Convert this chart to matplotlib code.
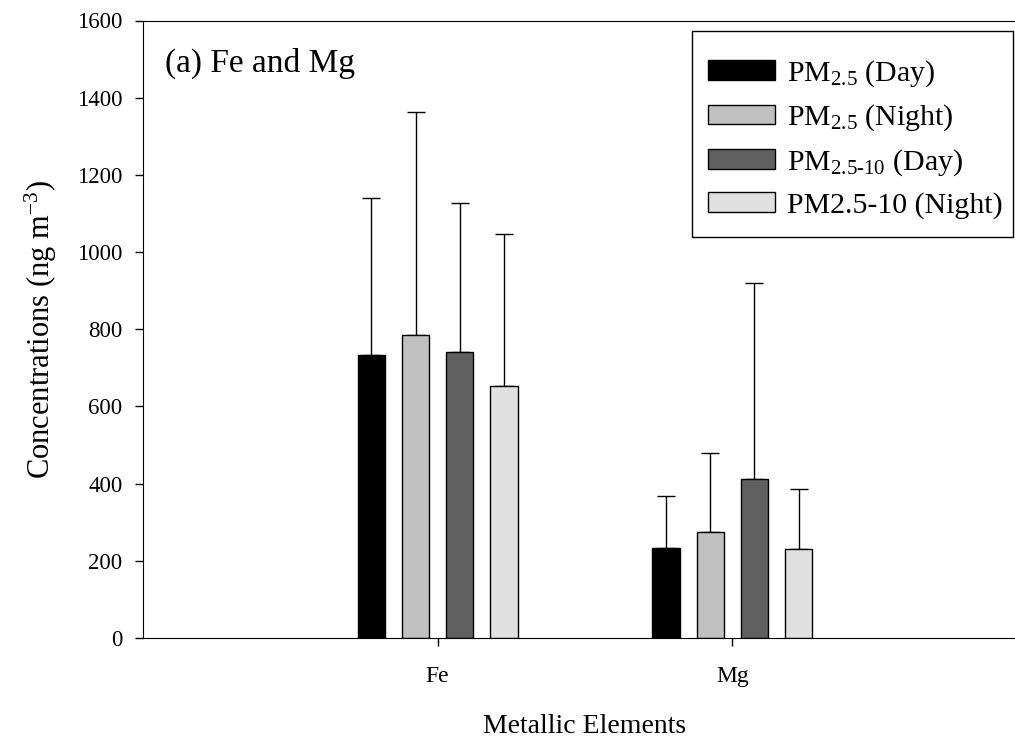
import numpy as np
import matplotlib
matplotlib.use("Agg")
import matplotlib.pyplot as plt
from matplotlib.patches import Rectangle

plt.rcParams['font.family'] = ['Liberation Serif', 'DejaVu Serif']
plt.rcParams['mathtext.fontset'] = 'custom'
plt.rcParams['mathtext.rm'] = 'Liberation Serif'
plt.rcParams['mathtext.it'] = 'Liberation Serif:italic'

elements = ['Fe', 'Mg']
series = ['PM$_{2.5}$ (Day)', 'PM$_{2.5}$ (Night)',
          'PM$_{\\mathrm{2.5\u201010}}$ (Day)', 'PM2.5-10 (Night)']
means = [
    [733, 234],   # PM2.5 day
    [784, 274],   # PM2.5 night
    [742, 413],   # PM2.5-10 day
    [652, 230],   # PM2.5-10 night
]
upper = [
    [1141, 369],
    [1363, 479],
    [1127, 920],
    [1046, 386],
]
colors = ['#000000', '#c0c0c0', '#606060', '#e0e0e0']

W, H = 1015, 740
fig = plt.figure(figsize=(W / 100, H / 100), dpi=100)
ax = fig.add_axes([143 / W, 102 / H, 884 / W, 617.5 / H])

x = np.arange(1, len(elements) + 1)
step = 0.1497
width = 0.0935
for i in range(4):
    pos = x + (i - 1.5) * step
    m = np.array(means[i])
    err = np.array(upper[i]) - m
    ax.bar(pos, m, width, color=colors[i], edgecolor='black', linewidth=1,
           label=series[i], zorder=2)
    ax.errorbar(pos, m, yerr=[np.zeros_like(err), err], fmt='none',
                ecolor='black', elinewidth=1, capsize=6.8, capthick=1, zorder=1)

ax.set_xlim(0, 3)
ax.set_ylim(0, 1600)
ax.set_xticks(x)
ax.set_xticklabels(elements)
ax.set_yticks(np.arange(0, 1601, 200))
ax.tick_params(axis='y', labelsize=16.5, length=5.8, width=1, direction='out', pad=9)
ax.tick_params(axis='x', labelsize=17, length=5.8, width=1, direction='out', pad=14.5)
ax.spines['right'].set_visible(False)

ax.set_xlabel('Metallic Elements', fontsize=20, labelpad=19)
ax.set_ylabel('Concentrations (ng m$^{-3}$)', fontsize=22, labelpad=13)
ax.text(22 / 884, 0.9166, '(a) Fe and Mg', transform=ax.transAxes,
        fontsize=24, va='baseline', ha='left')

# legend box drawn separately so its padding can be set on each side
box = Rectangle((691.5 / W, 1 - 237 / H), (1013 - 691.5) / W, (237 - 31.5) / H,
                transform=fig.transFigure, facecolor='white', edgecolor='black',
                linewidth=1, clip_on=False, zorder=3)
ax.add_patch(box)
leg = ax.legend(loc='upper left', bbox_to_anchor=(708 / W, 1 - 58 / H),
                bbox_transform=fig.transFigure, fontsize=21.5, frameon=False,
                handlelength=2.24, handleheight=0.64, labelspacing=0.47,
                borderpad=0, borderaxespad=0, handletextpad=0.4)
leg.set_zorder(5)

fig.savefig('out.png', dpi=100)
